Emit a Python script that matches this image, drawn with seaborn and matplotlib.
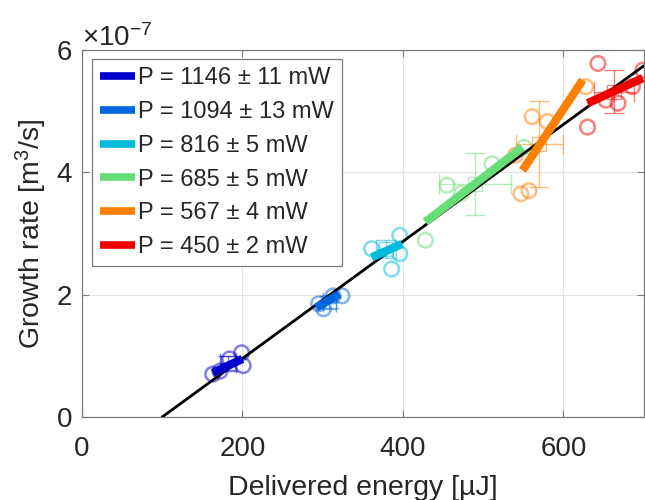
import matplotlib
matplotlib.use("Agg")
import matplotlib.pyplot as plt
import seaborn as sns
import pandas as pd
from matplotlib.ticker import ScalarFormatter

# ---------------- data ----------------
labels = ["P = 1146 ± 11 mW", "P = 1094 ± 13 mW", "P = 816 ± 5 mW",
          "P = 685 ± 5 mW", "P = 567 ± 4 mW", "P = 450 ± 2 mW"]
colors = ["#0000CC", "#0066DD", "#00BBDD", "#66DD77", "#FF7F00", "#EE0000"]

# individual measurements (energy in uJ, growth rate in 1e-7 m^3/s)
pt_x = [[163, 172, 184, 199, 201],
        [295, 301, 313, 324],
        [361, 386, 396, 396],
        [428, 455, 473, 511, 551],
        [540, 547, 557, 561, 580, 628],
        [630, 643, 653, 668, 686, 699]]
pt_y = [[0.70, 0.75, 0.95, 1.05, 0.84],
        [1.85, 1.77, 1.98, 1.98],
        [2.75, 2.42, 2.97, 2.67],
        [2.89, 3.79, 3.66, 4.14, 4.41],
        [4.28, 3.65, 3.70, 4.91, 4.83, 5.40],
        [4.74, 5.78, 5.18, 5.13, 5.40, 5.67]]

# group means and standard deviations
mean_x = [182, 308, 379, 490, 570, 663]
mean_y = [0.88, 1.88, 2.75, 3.81, 4.46, 5.32]
err_x = [10, 8, 12, 45, 29, 25]
err_y = [0.12, 0.10, 0.15, 0.51, 0.70, 0.35]

# per-power fit segments
seg_x0 = [163, 292, 361, 428, 549, 630]
seg_x1 = [200, 321, 399, 549, 624, 699]
seg_y0 = [0.72, 1.79, 2.61, 3.19, 4.03, 5.13]
seg_y1 = [0.95, 2.01, 2.83, 4.41, 5.51, 5.54]

# global linear fit
global_x = [100, 700]
global_y = [0.0, 5.74]

SCALE = 1e-7

# ---------------- plot ----------------
sns.set_style("ticks")
plt.rcParams["font.family"] = ["Liberation Sans", "DejaVu Sans"]
plt.rcParams["mathtext.fontset"] = "custom"
plt.rcParams["mathtext.rm"] = "Liberation Sans"
plt.rcParams["mathtext.it"] = "Liberation Sans:italic"

fig = plt.figure(figsize=(6.45, 5.0), dpi=100)
ax = fig.add_axes([0.127, 0.166, 0.871, 0.734])

for i in range(len(labels)):
    df = pd.DataFrame({"x": pt_x[i], "y": [v * SCALE for v in pt_y[i]]})
    sns.scatterplot(data=df, x="x", y="y", ax=ax, marker="o", s=110,
                    facecolors="none", edgecolor=colors[i], linewidth=1.8,
                    alpha=0.5, zorder=2)
    ax.errorbar(mean_x[i], mean_y[i] * SCALE, xerr=err_x[i], yerr=err_y[i] * SCALE,
                fmt="s", ms=10, mfc="none", mec=colors[i], ecolor=colors[i],
                elinewidth=1.0, mew=1.0, capsize=7, capthick=1.0, alpha=0.5, zorder=3)

gdf = pd.DataFrame({"x": global_x, "y": [v * SCALE for v in global_y]})
sns.lineplot(data=gdf, x="x", y="y", ax=ax, color="black", lw=2.0,
             estimator=None, sort=False, zorder=4, legend=False)

for i in range(len(labels)):
    sdf = pd.DataFrame({"x": [seg_x0[i], seg_x1[i]],
                        "y": [seg_y0[i] * SCALE, seg_y1[i] * SCALE]})
    sns.lineplot(data=sdf, x="x", y="y", ax=ax, color=colors[i], lw=6,
                 estimator=None, sort=False, label=labels[i], zorder=5,
                 solid_capstyle="butt")

ax.set_xlim(0, 700)
ax.set_ylim(0, 6e-7)
ax.set_xticks([0, 200, 400, 600])
ax.set_yticks([0, 2e-7, 4e-7, 6e-7])
fmt = ScalarFormatter(useMathText=True)
fmt.set_powerlimits((0, 0))
ax.yaxis.set_major_formatter(fmt)
ax.yaxis.get_offset_text().set_fontsize(20)
ax.yaxis.get_offset_text().set_color("#262626")

ax.grid(True, color="#e3e3e3", lw=0.8)
ax.set_axisbelow(True)
for sp in ax.spines.values():
    sp.set_color("#7a7a7a")
    sp.set_linewidth(0.9)
    sp.set_visible(True)
ax.tick_params(direction="in", top=True, right=True, length=5, width=0.8,
               color="#7a7a7a", labelsize=20, labelcolor="#262626")
ax.tick_params(axis="x", pad=14)
ax.tick_params(axis="y", pad=7)

ax.set_xlabel("Delivered energy [µJ]", fontsize=20.5, color="#262626", labelpad=9)
ax.set_ylabel("Growth rate [m$^3$/s]", fontsize=20.5, color="#262626", labelpad=5)

leg = ax.legend(loc="upper left", bbox_to_anchor=(0.005, 0.995), fontsize=17,
                frameon=True, fancybox=False, framealpha=1, edgecolor="#7a7a7a",
                handlelength=1.5, handletextpad=0.1, labelspacing=0.5,
                borderpad=0.35, borderaxespad=0.3)
for h in leg.get_lines():
    h.set_linewidth(5.5)
leg.get_frame().set_linewidth(0.9)

fig.savefig("out.png", dpi=100)
